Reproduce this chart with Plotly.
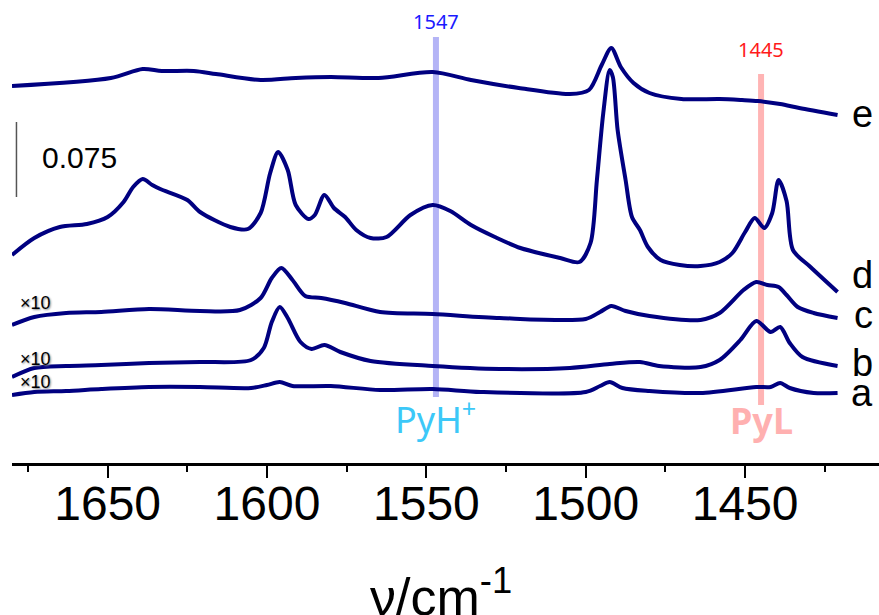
import plotly.graph_objects as go

# Stacked IR spectra of adsorbed pyridine (offset absorbance; a-c magnified x10)
wn_a = [1680, 1673, 1663, 1652, 1637, 1621, 1605, 1600, 1596, 1592, 1580, 1564.5, 1548, 1533,
        1500, 1495.5, 1492.5, 1488.5, 1480, 1464, 1446.5, 1442, 1439, 1436, 1428.5, 1421]
abs_a = [0.068, 0.071, 0.072, 0.074, 0.076, 0.076, 0.075, 0.078, 0.081, 0.077, 0.077, 0.073, 0.074, 0.071,
         0.071, 0.077, 0.081, 0.075, 0.072, 0.070, 0.076, 0.076, 0.080, 0.075, 0.070, 0.070]

wn_b = [1680, 1673, 1663, 1652, 1637, 1621, 1605, 1601, 1598.5, 1596, 1593.5, 1589.5, 1586, 1582, 1577,
        1567.5, 1548, 1527, 1505, 1492.5, 1483, 1477, 1464, 1458, 1451.5, 1446.5, 1442, 1439, 1436, 1432, 1421]
abs_b = [0.086, 0.095, 0.097, 0.098, 0.100, 0.101, 0.103, 0.115, 0.141, 0.156, 0.145, 0.121, 0.114, 0.118, 0.111,
         0.102, 0.097, 0.094, 0.095, 0.099, 0.101, 0.097, 0.096, 0.103, 0.123, 0.142, 0.131, 0.136, 0.120, 0.106, 0.097]

wn_c = [1680, 1673, 1663, 1652, 1637, 1621, 1608.5, 1602, 1598.5, 1595.5, 1592, 1588, 1583, 1575.5, 1564.5,
        1548, 1527, 1500, 1495.5, 1492, 1487.5, 1480, 1464, 1458, 1450.5, 1446.5, 1443, 1439.5, 1437, 1433.5,
        1428.5, 1421]
abs_c = [0.138, 0.146, 0.150, 0.151, 0.154, 0.152, 0.153, 0.165, 0.185, 0.195, 0.183, 0.167, 0.165, 0.160, 0.151,
         0.149, 0.145, 0.144, 0.151, 0.157, 0.152, 0.147, 0.143, 0.150, 0.173, 0.181, 0.178, 0.176, 0.168, 0.156,
         0.150, 0.145]

wn_d = [1680, 1673, 1665, 1656.5, 1650, 1645, 1642, 1639, 1636, 1633.5, 1625, 1621, 1611.5, 1606, 1602,
        1599, 1596.5, 1593.5, 1591, 1587, 1585, 1582, 1579, 1575.5, 1572, 1567.5, 1562.5, 1555, 1548, 1542.5,
        1536, 1528.5, 1520.5, 1508, 1502, 1498.5, 1496.5, 1494.5, 1492.5, 1491.5, 1490, 1487.5, 1485.5, 1483,
        1480.5, 1476.5, 1470.5, 1464, 1458, 1454, 1450, 1447, 1444, 1441.5, 1439.5, 1437, 1435, 1429.5, 1421]
abs_d = [0.208, 0.225, 0.236, 0.239, 0.246, 0.261, 0.276, 0.284, 0.278, 0.274, 0.263, 0.251, 0.236, 0.234, 0.250,
         0.290, 0.311, 0.293, 0.258, 0.244, 0.248, 0.268, 0.255, 0.246, 0.233, 0.225, 0.226, 0.248, 0.258, 0.252,
         0.238, 0.226, 0.215, 0.205, 0.201, 0.220, 0.283, 0.350, 0.393, 0.386, 0.333, 0.283, 0.246, 0.233,
         0.216, 0.203, 0.198, 0.197, 0.201, 0.210, 0.231, 0.245, 0.235, 0.250, 0.283, 0.262, 0.213, 0.196, 0.171]

wn_e = [1680, 1649, 1639, 1633, 1623, 1616, 1602, 1591, 1580, 1565, 1548, 1536, 1521, 1505, 1499,
        1495, 1492, 1489, 1485, 1480, 1470, 1458, 1451, 1446, 1439, 1433, 1421]
abs_e = [0.377, 0.385, 0.394, 0.392, 0.392, 0.389, 0.383, 0.385, 0.386, 0.385, 0.391, 0.383, 0.375, 0.369, 0.373,
         0.398, 0.415, 0.396, 0.380, 0.370, 0.364, 0.364, 0.363, 0.362, 0.359, 0.355, 0.348]

spectra = [("a", wn_a, abs_a), ("b", wn_b, abs_b), ("c", wn_c, abs_c), ("d", wn_d, abs_d), ("e", wn_e, abs_e)]

# Marker bands: Brønsted (PyH+) and Lewis (PyL) pyridine
band_bronsted = 1547
band_lewis = 1445
bronsted_span = [0.066, 0.426]
lewis_span = [0.058, 0.389]

scale_bar = 0.075
scale_bar_x = 1678.6
scale_bar_base = 0.266

tick_vals = [1650, 1600, 1550, 1500, 1450]

NAVY = "#000080"
FONT = "Liberation Sans, Arial"

fig = go.Figure()

fig.add_trace(go.Scatter(x=[band_bronsted, band_bronsted], y=bronsted_span, mode="lines",
                         line=dict(color="#b4b4f6", width=6), hoverinfo="skip"))
fig.add_trace(go.Scatter(x=[band_lewis, band_lewis], y=lewis_span, mode="lines",
                         line=dict(color="#ffb4b4", width=6), hoverinfo="skip"))

for name, wn, ab in spectra:
    fig.add_trace(go.Scatter(x=wn, y=ab, mode="lines", name=name,
                             line=dict(color=NAVY, width=4, shape="spline", smoothing=0.8)))

fig.add_trace(go.Scatter(x=[scale_bar_x, scale_bar_x], y=[scale_bar_base, scale_bar_base + scale_bar],
                         mode="lines", line=dict(color="#555555", width=1.5), hoverinfo="skip"))

ann = []
ann.append(dict(x=scale_bar_x, y=scale_bar_base + scale_bar / 2, xref="x", yref="y",
                text=f"{scale_bar}", showarrow=False, xanchor="left", xshift=24, yshift=2,
                font=dict(family=FONT, size=30, color="black")))

# Curve letters on the right, nudged clear of the line ends
letter_shift = {"a": 0, "b": 3, "c": 3, "d": 17, "e": 1}
for name, wn, ab in spectra:
    ann.append(dict(x=1, y=ab[-1], xref="paper", yref="y", text=name, showarrow=False,
                    xanchor="right", xshift=-4, yshift=letter_shift[name],
                    font=dict(family=FONT, size=38, color="black")))

# Magnification notes for the three lower spectra
mag_shift = {"a": 1, "b": 6, "c": 10}
for name, wn, ab in spectra[:3]:
    ann.append(dict(x=wn[0], y=ab[0], xref="x", yref="y", text="×10", showarrow=False,
                    xanchor="left", yanchor="bottom", xshift=6, yshift=mag_shift[name],
                    font=dict(family=FONT, size=18, color="black",
                              shadow="1px 1px 2px #888888")))

ann.append(dict(x=band_bronsted, y=bronsted_span[1], xref="x", yref="y", text=str(band_bronsted),
                showarrow=False, yanchor="bottom", yshift=0,
                font=dict(family="Noto Sans", size=20, color="#1a1aff")))
ann.append(dict(x=band_lewis, y=lewis_span[1], xref="x", yref="y", text=str(band_lewis),
                showarrow=False, yanchor="bottom", yshift=9,
                font=dict(family="Noto Sans", size=20, color="#ff1a1a")))
ann.append(dict(x=band_bronsted, y=bronsted_span[0], xref="x", yref="y", text="PyH<sup>+</sup>",
                showarrow=False, yanchor="top", yshift=8,
                font=dict(family="Noto Sans", size=36, color="#3cc8f8")))
ann.append(dict(x=band_lewis, y=lewis_span[0], xref="x", yref="y", text="<b>PyL</b>",
                showarrow=False, yanchor="top", yshift=11,
                font=dict(family="Noto Sans", size=36, color="#ffb0b0")))

# Axis title placed below the tick labels
ann.append(dict(x=0.5, y=0, xref="paper", yref="paper", text="ν/cm<sup>-1</sup>", showarrow=False,
                xanchor="center", yanchor="bottom", xshift=-5, yshift=-165,
                font=dict(family=FONT, size=52, color="black")))

fig.update_layout(
    width=879, height=615,
    margin=dict(l=12, r=0, t=0, b=152, autoexpand=False),
    paper_bgcolor="white", plot_bgcolor="white",
    showlegend=False,
    annotations=ann,
    xaxis=dict(
        range=[1680, 1408], showgrid=False, zeroline=False, automargin=False,
        showline=True, linecolor="black", linewidth=3,
        ticks="outside", ticklen=12, tickwidth=2, tickcolor="black",
        tickvals=tick_vals, ticklabelstandoff=-16,
        tickfont=dict(family=FONT, size=48, color="black"),
        minor=dict(dtick=25, tick0=1425, ticks="outside", ticklen=6, tickwidth=2, tickcolor="black"),
    ),
    yaxis=dict(range=[0, 0.463], visible=False),
)

fig.write_html("out.html")
